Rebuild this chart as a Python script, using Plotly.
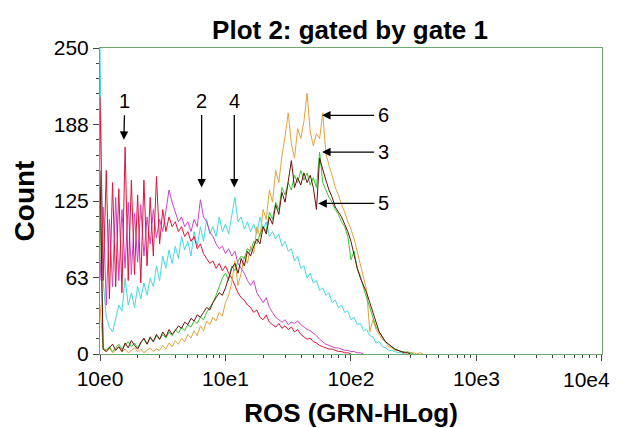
import plotly.graph_objects as go

# Histogram channels: log10 spacing of 0.025 decades, starting at 10^0
CHANNEL_STEP = 0.025

s1_red = [210, 60, 150, 45, 140, 55, 135, 50, 169, 60, 142, 65, 130, 58, 142, 72, 128, 80, 145, 90,
          118, 100, 112, 104, 108, 100, 104, 96, 100, 92, 96, 86, 90, 82, 78, 74, 76, 70, 74, 68,
          72, 66, 62, 56, 50, 46, 44, 40, 38, 34, 36, 30, 28, 32, 26, 24, 22, 25, 21, 23,
          20, 22, 18, 20, 16, 14, 12, 13, 10, 9, 7, 6, 5, 4, 4, 3, 2, 2, 1, 1, 0]

s2_magenta = [60, 120, 40, 110, 55, 128, 60, 118, 70, 124, 65, 115, 75, 122, 80, 112, 90, 118, 95, 110,
              100, 118, 134, 124, 116, 108, 112, 104, 108, 100, 110, 104, 126, 112, 108, 100, 96, 90, 86, 88,
              82, 86, 80, 84, 74, 70, 66, 60, 56, 60, 50, 46, 42, 46, 38, 34, 30, 28, 26, 28,
              24, 26, 25, 27, 24, 22, 20, 19, 17, 15, 12, 10, 8, 7, 6, 5, 5, 4, 3, 3, 2, 2, 1, 1, 0]

s3_green = [120, 5, 3, 6, 2, 5, 8, 4, 7, 10, 6, 9, 5, 10, 12, 8, 13, 10, 15, 12,
            16, 13, 18, 15, 20, 17, 22, 19, 24, 22, 27, 25, 30, 28, 34, 38, 42, 48, 56, 62,
            66, 60, 72, 68, 76, 80, 78, 86, 84, 92, 90, 98, 104, 100, 116, 110, 124, 118, 136, 130,
            140, 134, 146, 140, 150, 142, 148, 138, 144, 136, 165, 140, 134, 128, 124, 118, 114, 108, 104, 96,
            77, 84, 70, 64, 54, 46, 38, 30, 22, 18, 14, 10, 8, 6, 4, 3, 2, 2, 1, 1, 0]

s4_cyan = [250, 60, 30, 22, 18, 28, 40, 35, 62, 40, 50, 38, 55, 45, 58, 48, 62, 55, 72, 60,
           80, 70, 85, 74, 88, 78, 96, 85, 92, 80, 100, 88, 104, 92, 110, 98, 104, 96, 112, 100,
           106, 98, 114, 128, 108, 112, 102, 108, 100, 106, 98, 112, 102, 108, 96, 100, 94, 98, 88, 92,
           84, 86, 76, 80, 70, 72, 62, 66, 58, 60, 52, 54, 48, 50, 42, 44, 38, 40, 34, 35,
           28, 30, 24, 25, 19, 20, 15, 14, 9, 10, 6, 5, 3, 3, 2, 1, 1, 0]

s5_maroon = [150, 4, 2, 5, 8, 3, 6, 2, 9, 5, 11, 7, 4, 9, 13, 8, 14, 10, 16, 12,
             18, 14, 20, 16, 19, 23, 21, 26, 24, 29, 27, 32, 30, 34, 38, 36, 42, 46, 50, 48,
             54, 62, 70, 74, 66, 78, 72, 84, 80, 88, 94, 90, 104, 98, 112, 106, 122, 114, 132, 124,
             140, 158, 136, 144, 138, 148, 140, 146, 136, 118, 160, 150, 142, 134, 128, 120, 116, 112, 106, 100,
             92, 80, 70, 62, 56, 50, 42, 34, 24, 18, 14, 10, 8, 6, 4, 3, 2, 1, 1, 0]

s6_orange = [40, 4, 2, 5, 1, 3, 6, 2, 4, 1, 3, 5, 2, 4, 1, 3, 5, 2, 4, 3,
             7, 4, 9, 6, 11, 8, 13, 10, 16, 13, 19, 15, 23, 19, 27, 24, 30, 27, 34, 31,
             42, 48, 58, 76, 56, 66, 80, 74, 88, 82, 104, 96, 118, 110, 134, 124, 150, 140, 162, 178,
             197, 172, 160, 184, 176, 190, 213, 182, 170, 180, 176, 197, 164, 154, 146, 136, 130, 122, 116, 108,
             102, 94, 84, 74, 62, 52, 18, 28, 20, 16, 12, 10, 6, 5, 3, 3, 2, 1, 2, 1,
             1, 0, 1, 0]

colors = {"1": "#d8163c", "2": "#cc44cc", "3": "#35c735", "4": "#45d8e0", "5": "#6a1010", "6": "#e0a43a"}

y_tickvals = [0, 62.5, 125, 187.5, 250]
y_ticktext = ["0", "63", "125", "188", "250"]
x_tickvals = [1, 10, 100, 1000, 10000]
x_ticktext = ["10e0", "10e1", "10e2", "10e3", "10e4"]
x_minor = [m * 10 ** d for d in range(4) for m in range(2, 10)]

def channels(n):
    return [10 ** (i * CHANNEL_STEP) for i in range(n)]

data = {"1": s1_red, "2": s2_magenta, "3": s3_green, "4": s4_cyan, "5": s5_maroon, "6": s6_orange}
draw_order = ["4", "2", "1", "6", "3", "5"]

fig = go.Figure()
for k in draw_order:
    vals = data[k]
    fig.add_trace(go.Scatter(x=channels(len(vals)), y=vals, mode="lines",
                             line=dict(color=colors[k], width=1), name=k, showlegend=False))

FONT = "Liberation Sans, Arial, sans-serif"
axis_green = "#6fa86f"

# the page body adds an 8px offset; figure is sized to compensate
fig.update_layout(
    width=613, height=420,
    margin=dict(l=92, r=19, t=40, b=74),
    paper_bgcolor="white", plot_bgcolor="white",
    font=dict(family=FONT, color="black"),
    title=dict(text="<b>Plot 2: gated by gate 1</b>", x=0.558, xanchor="center", y=0.948, yanchor="middle",
               font=dict(size=26, family=FONT)),
    showlegend=False,
)

# last decade label is drawn right-aligned near the figure edge (as in the reference) so it is not clipped
fig.update_xaxes(type="log", range=[0, 4.0005], tickvals=x_tickvals, ticktext=x_ticktext[:-1] + [""],
                 showline=True, linecolor=axis_green, linewidth=1, mirror=True,
                 ticks="outside", ticklen=6, tickcolor="#444", tickwidth=1,
                 minor=dict(tickvals=x_minor, ticks="outside", ticklen=3, tickcolor="#444"),
                 showgrid=False, zeroline=False, automargin=False,
                 tickfont=dict(size=21, family=FONT),
                 title=dict(text="<b>ROS (GRN-HLog)</b>", font=dict(size=26, family=FONT), standoff=16))
fig.add_annotation(x=1.0, y=0, xref="paper", yref="paper", text=x_ticktext[-1], showarrow=False,
                   xanchor="right", yanchor="middle", xshift=10, yshift=-25,
                   font=dict(size=21, family=FONT, color="black"))

fig.update_yaxes(range=[0, 250], tickvals=y_tickvals, ticktext=y_ticktext,
                 showline=True, linecolor=axis_green, linewidth=1, mirror=True,
                 ticks="outside", ticklen=6, tickcolor="#444", tickwidth=1,
                 minor=dict(dtick=12.5, tick0=0, ticks="outside", ticklen=3, tickcolor="#444"),
                 showgrid=False, zeroline=False, automargin=False,
                 tickfont=dict(size=21, family=FONT),
                 title=dict(text="<b>Count</b>", font=dict(size=28, family=FONT), standoff=10))

# arrow annotations: label, head position (log10 x, count), tail offset in px
arrow_labels = ["1", "2", "4", "6", "3", "5"]
arrow_head_x = [0.19, 0.81, 1.07, 1.77, 1.77, 1.74]
arrow_head_y = [175, 136, 136, 195, 165, 123]
arrow_ax = [1, 0, 0, 61, 61, 65]
arrow_ay = [-39, -87, -87, 0, 0, 0]

for lab, hx, hy, dx, dy in zip(arrow_labels, arrow_head_x, arrow_head_y, arrow_ax, arrow_ay):
    fig.add_annotation(x=hx, y=hy, xref="x", yref="y", text=lab, showarrow=True,
                       ax=dx, ay=dy, arrowhead=2, arrowsize=1.3, arrowwidth=1.3, arrowcolor="black",
                       font=dict(size=20, family=FONT, color="black"), standoff=0, startstandoff=2)

fig.write_html("out.html")
